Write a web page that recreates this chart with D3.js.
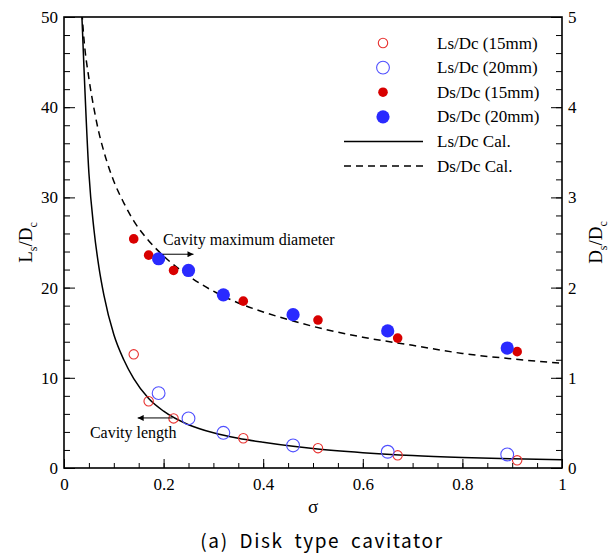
<!DOCTYPE html>
<html>
<head>
<meta charset="utf-8">
<script src="https://cdn.jsdelivr.net/npm/d3@7"></script>
<style>
	body { margin: 0; background: #fff; }
	svg text { font-family: 'Liberation Serif', 'Times New Roman', serif; fill: #000; }
	svg text.caption { font-family: 'Noto Sans CJK KR', 'DejaVu Sans', sans-serif; }
</style>
</head>
<body>
<script>
'use strict';

// sigma values of the measured points
var sigma15 = [0.14, 0.17, 0.22, 0.36, 0.51, 0.67, 0.91],
	sigma20 = [0.19, 0.25, 0.32, 0.46, 0.65, 0.89],

// cavity length over disk diameter (left axis)
	ls15 = [12.6, 7.4, 5.5, 3.3, 2.2, 1.4, 0.85],
	ls20 = [8.3, 5.5, 3.9, 2.5, 1.8, 1.5],

// cavity diameter over disk diameter (right axis)
	ds15 = [2.54, 2.36, 2.19, 1.85, 1.64, 1.44, 1.29],
	ds20 = [2.32, 2.19, 1.92, 1.70, 1.52, 1.33],

// calculated curves
	calcSigma = [0.036, 0.04, 0.05, 0.06, 0.07, 0.08, 0.10, 0.12, 0.14, 0.17, 0.20,
		0.25, 0.30, 0.35, 0.40, 0.46, 0.50, 0.60, 0.70, 0.80, 0.90, 1.00],
	lsCalc = [50, 44.5, 32.7, 26.5, 22.3, 19.2, 14.8, 12.0, 9.9, 7.7, 6.3,
		4.8, 3.9, 3.3, 2.85, 2.4, 2.15, 1.7, 1.38, 1.17, 1.02, 0.92],
	dsCalc = [5.05, 4.76, 4.32, 3.99, 3.72, 3.51, 3.18, 2.94, 2.74, 2.52, 2.35,
		2.13, 1.96, 1.83, 1.73, 1.63, 1.57, 1.45, 1.36, 1.27, 1.21, 1.16],

	xTicks = [0, 0.2, 0.4, 0.6, 0.8, 1],
	leftTicks = [0, 10, 20, 30, 40, 50],
	rightTicks = [0, 1, 2, 3, 4, 5],

	legendLabels = ['Ls/Dc (15mm)', 'Ls/Dc (20mm)', 'Ds/Dc (15mm)', 'Ds/Dc (20mm)',
		'Ls/Dc Cal.', 'Ds/Dc Cal.'];

var margin = {top: 17, right: 49, bottom: 88, left: 64},
	width = 611 - margin.left - margin.right,
	height = 556 - margin.top - margin.bottom;

var x = d3.scaleLinear().domain([0, 1]).range([0, width]),
	yL = d3.scaleLinear().domain([0, 50]).range([height, 0]),
	yR = d3.scaleLinear().domain([0, 5]).range([height, 0]);

var svg = d3.select('body').append('svg')
	.attr('width', 611)
	.attr('height', 556);

var defs = svg.append('defs');

defs.append('clipPath')
		.attr('id', 'plotClip')
	.append('rect')
		.attr('width', width)
		.attr('height', height);

defs.append('marker')
		.attr('id', 'arrow')
		.attr('viewBox', '0 0 10 10')
		.attr('refX', 10)
		.attr('refY', 5)
		.attr('markerWidth', 10)
		.attr('markerHeight', 6)
		.attr('markerUnits', 'userSpaceOnUse')
		.attr('orient', 'auto')
	.append('path')
		.attr('d', 'M0,0L10,5L0,10z')
		.attr('fill', '#000');

var g = svg.append('g').attr('transform', 'translate(' + margin.left + ',' + margin.top + ')');

/*
* Ticks pointing into the plot, major and minor.
*/
function inwardTicks(axis, scale, transform, majors, minors, majLen, minLen) {
	g.append('g')
		.attr('transform', transform)
		.call(axis(scale).tickValues(minors).tickSize(minLen).tickFormat(''))
		.call(function(s) { s.select('.domain').remove(); });
	g.append('g')
		.attr('transform', transform)
		.call(axis(scale).tickValues(majors).tickSize(majLen).tickFormat(''))
		.call(function(s) { s.select('.domain').remove(); });
}

var xMinor = d3.range(0, 21).map(function(i) { return i * 0.05; }),
	yMinor = d3.range(0, 26).map(function(i) { return i * 2; }),
	rMinor = d3.range(0, 26).map(function(i) { return i * 0.2; });

inwardTicks(d3.axisTop, x, 'translate(0,' + height + ')', xTicks, xMinor, 9, 5);
inwardTicks(d3.axisRight, yL, 'translate(0,0)', leftTicks, yMinor, 11, 6);
inwardTicks(d3.axisLeft, yR, 'translate(' + width + ',0)', rightTicks, rMinor, 11, 6);

// tick labels, serif like the rest of the plot
function labelStyle(s) {
	s.select('.domain').remove();
	s.attr('font-family', null).attr('font-size', null);
	s.selectAll('text')
		.style('font-family', "'Liberation Serif', serif")
		.style('font-size', '17px');
}

g.append('g')
	.attr('transform', 'translate(0,' + height + ')')
	.call(d3.axisBottom(x).tickValues(xTicks).tickSize(0).tickPadding(10)
		.tickFormat(function(d) { return d === 0 || d === 1 ? d : d3.format('.1f')(d); }))
	.call(labelStyle);

g.append('g')
	.call(d3.axisLeft(yL).tickValues(leftTicks).tickSize(0).tickPadding(6)
		.tickFormat(d3.format('d')))
	.call(labelStyle);

g.append('g')
	.attr('transform', 'translate(' + width + ',0)')
	.call(d3.axisRight(yR).tickValues(rightTicks).tickSize(0).tickPadding(6)
		.tickFormat(d3.format('d')))
	.call(labelStyle);

// frame
g.append('rect')
	.attr('width', width)
	.attr('height', height)
	.attr('fill', 'none')
	.attr('stroke', '#000')
	.attr('stroke-width', 1.6);

// axis titles with subscripts
function axisTitle(xPos, big1, sub1, big2, sub2) {
	var t = svg.append('text')
		.attr('transform', 'translate(' + xPos + ',' + (margin.top + height / 2) + ') rotate(-90)')
		.attr('text-anchor', 'middle')
		.style('font-size', '19px');
	t.append('tspan').text(big1);
	t.append('tspan').text(sub1).attr('dy', 5).style('font-size', '12px');
	t.append('tspan').text('/' + big2).attr('dy', -5);
	t.append('tspan').text(sub2).attr('dy', 5).style('font-size', '12px');
}
axisTitle(32, 'L', 's', 'D', 'c');
axisTitle(602, 'D', 's', 'D', 'c');

svg.append('text')
	.attr('x', margin.left + width / 2)
	.attr('y', 513)
	.attr('text-anchor', 'middle')
	.style('font-size', '19px')
	.text('\u03c3');

svg.append('text')
	.attr('class', 'caption')
	.attr('x', 322)
	.attr('y', 548)
	.attr('text-anchor', 'middle')
	.style('font-size', '19px')
	.style('letter-spacing', '1.6px')
	.style('word-spacing', '5px')
	.text('(a) Disk type cavitator');

// calculated curves
var plot = g.append('g').attr('clip-path', 'url(#plotClip)');

var lsLine = d3.line().curve(d3.curveMonotoneX)
	.x(function(d, i) { return x(calcSigma[i]); })
	.y(function(d) { return yL(d); });

var dsLine = d3.line().curve(d3.curveMonotoneX)
	.x(function(d, i) { return x(calcSigma[i]); })
	.y(function(d) { return yR(d); });

plot.append('path')
	.datum(lsCalc)
	.attr('fill', 'none')
	.attr('stroke', '#000')
	.attr('stroke-width', 1.5)
	.attr('d', lsLine);

plot.append('path')
	.datum(dsCalc)
	.attr('fill', 'none')
	.attr('stroke', '#000')
	.attr('stroke-width', 1.5)
	.attr('stroke-dasharray', '7,5')
	.attr('d', dsLine);

// measured points
var series = [
	{sx: sigma15, sy: ls15, scale: yL, r: 4.7, fill: 'none', stroke: '#e8312f'},
	{sx: sigma20, sy: ls20, scale: yL, r: 6.4, fill: 'none', stroke: '#5050ff'},
	{sx: sigma15, sy: ds15, scale: yR, r: 4.8, fill: '#d80000', stroke: 'none'},
	{sx: sigma20, sy: ds20, scale: yR, r: 6.6, fill: '#2a2aff', stroke: 'none'}
];

series.forEach(function(s) {
	plot.selectAll(null)
		.data(s.sy).enter()
		.append('circle')
			.attr('cx', function(d, i) { return x(s.sx[i]); })
			.attr('cy', function(d) { return s.scale(d); })
			.attr('r', s.r)
			.attr('fill', s.fill)
			.attr('stroke', s.stroke)
			.attr('stroke-width', 1.1);
});

// annotations
g.append('text')
	.attr('x', x(0.199))
	.attr('y', yL(24.7))
	.style('font-size', '16px')
	.text('Cavity maximum diameter');

g.append('line')
	.attr('x1', x(0.198)).attr('x2', x(0.26))
	.attr('y1', yL(23.7)).attr('y2', yL(23.7))
	.attr('stroke', '#000')
	.attr('stroke-width', 1)
	.attr('marker-end', 'url(#arrow)');

g.append('text')
	.attr('x', x(0.052))
	.attr('y', yL(3.3))
	.style('font-size', '16px')
	.text('Cavity length');

g.append('line')
	.attr('x1', x(0.218)).attr('x2', x(0.148))
	.attr('y1', yL(5.55)).attr('y2', yL(5.55))
	.attr('stroke', '#000')
	.attr('stroke-width', 1)
	.attr('marker-end', 'url(#arrow)');

// legend
var legend = svg.selectAll('.legend')
	.data(legendLabels).enter()
	.append('g')
		.attr('class', 'legend')
		.attr('transform', function(d, i) { return 'translate(0,' + (43 + i * 24.6) + ')'; });

legend.append('text')
	.attr('x', 437)
	.attr('y', 5.5)
	.style('font-size', '17px')
	.text(function(d) { return d; });

legend.filter(function(d, i) { return i < 4; })
	.append('circle')
		.attr('cx', 383)
		.attr('r', function(d, i) { return series[i].r; })
		.attr('fill', function(d, i) { return series[i].fill; })
		.attr('stroke', function(d, i) { return series[i].stroke; })
		.attr('stroke-width', 1.1);

legend.filter(function(d, i) { return i >= 4; })
	.append('line')
		.attr('x1', 344).attr('x2', 423)
		.attr('stroke', '#000')
		.attr('stroke-width', 1.5)
		.attr('stroke-dasharray', function(d, i) { return i === 1 ? '7,5' : null; });
</script>
</body>
</html>
